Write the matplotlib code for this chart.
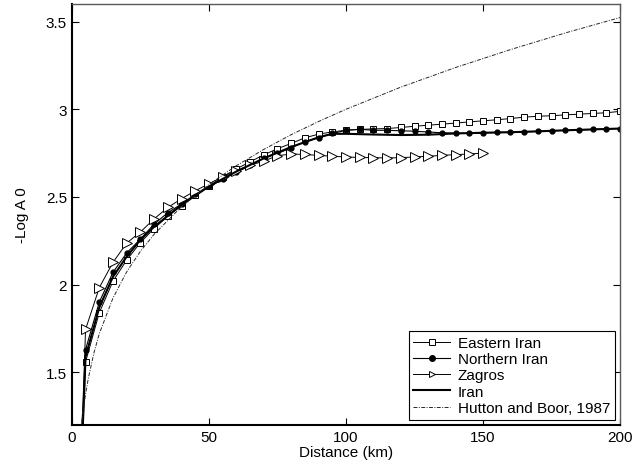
import numpy as np
import matplotlib
matplotlib.use('Agg')
import matplotlib.pyplot as plt

plt.rcParams['font.family'] = ['Liberation Sans', 'DejaVu Sans']

# distancias de los marcadores (cada 5 km)
dist_full = list(range(5, 205, 5))
dist_zag = list(range(5, 155, 5))

# Eastern Iran (cuadrados)
eastern = [1.56, 1.84, 2.02, 2.14, 2.24, 2.32, 2.39, 2.45, 2.51, 2.56,
           2.615, 2.66, 2.70, 2.74, 2.775, 2.805, 2.837, 2.858, 2.871, 2.88,
           2.885, 2.888, 2.89, 2.896, 2.903, 2.909, 2.915, 2.921, 2.928, 2.934,
           2.94, 2.947, 2.955, 2.96, 2.963, 2.968, 2.972, 2.976, 2.98, 2.988]

# Northern Iran (puntos)
northern = [1.63, 1.90, 2.07, 2.18, 2.26, 2.345, 2.41, 2.46, 2.515, 2.56,
            2.60, 2.64, 2.68, 2.72, 2.748, 2.78, 2.815, 2.837, 2.862, 2.88,
            2.886, 2.88, 2.88, 2.877, 2.875, 2.87, 2.866, 2.864, 2.862, 2.865,
            2.868, 2.869, 2.871, 2.874, 2.877, 2.88, 2.882, 2.885, 2.887, 2.89]

# Zagros (triangulos)
zagros = [1.745, 1.983, 2.127, 2.237, 2.30, 2.375, 2.44, 2.49, 2.535, 2.575,
          2.615, 2.65, 2.68, 2.705, 2.735, 2.745, 2.742, 2.737, 2.732, 2.728,
          2.725, 2.724, 2.722, 2.724, 2.728, 2.732, 2.737, 2.741, 2.745, 2.75]

# tramo inicial (por debajo del eje, se recorta)
lead_dist = [3, 4]
eastern_lead = [0.85, 1.15]
northern_lead = [0.95, 1.22]
zagros_lead = [1.05, 1.30]

# Iran (linea continua)
iran_dist = [3, 4, 5, 10, 15, 20, 25, 30, 40, 50, 60, 70, 80, 90, 95, 100,
             110, 120, 130, 140, 150, 160, 170, 180, 190, 200]
iran = [0.9, 1.2, 1.59, 1.87, 2.045, 2.16, 2.255, 2.33, 2.455, 2.56, 2.645,
        2.72, 2.785, 2.84, 2.86, 2.86, 2.856, 2.853, 2.855, 2.862, 2.866,
        2.869, 2.874, 2.88, 2.885, 2.89]

# Hutton and Boor, 1987
hb_dist = [3, 4, 5, 6, 8, 10, 15, 20, 25, 30, 40, 50, 60, 70, 80, 90, 100,
           120, 140, 160, 180, 200]
hb = [1.127, 1.267, 1.376, 1.466, 1.608, 1.72, 1.924, 2.073, 2.19, 2.287,
      2.445, 2.571, 2.678, 2.771, 2.855, 2.93, 3.0, 3.126, 3.238, 3.34,
      3.435, 3.523]

fig = plt.figure(figsize=(6.36, 4.77), dpi=100)
ax = fig.add_axes([0.113, 0.107, 0.862, 0.8825])

ax.plot(lead_dist + dist_full, eastern_lead + eastern, color='k', lw=0.7,
        marker='s', ms=5, mfc='white', mec='k', mew=0.7,
        markevery=slice(2, None), label='Eastern Iran')
ax.plot(lead_dist + dist_full, northern_lead + northern, color='k', lw=0.8,
        marker='o', ms=3.5, mfc='k', mec='k',
        markevery=slice(2, None), label='Northern Iran')
ax.plot(lead_dist + dist_zag, zagros_lead + zagros, color='k', lw=0.7,
        marker='>', ms=6.5, mfc='white', mec='k', mew=0.7,
        markevery=slice(2, None), label='Zagros')
ax.plot(iran_dist, iran, color='k', lw=1.5, label='Iran')
ax.plot(hb_dist, hb, color='0.15', lw=0.7, ls=(0, (4, 1.5, 1, 1.5)),
        label='Hutton and Boor, 1987')

ax.set_xlim(0, 200)
ax.set_ylim(1.2, 3.6)
ax.set_xticks([0, 50, 100, 150, 200])
ax.set_yticks([1.5, 2, 2.5, 3, 3.5])
ax.set_yticklabels(['1.5', '2', '2.5', '3', '3.5'])
ax.tick_params(direction='in', top=True, right=True, labelsize=11, length=5)
for s in ['left', 'bottom']:
    ax.spines[s].set_linewidth(1.5)
for s in ['top', 'right']:
    ax.spines[s].set_linewidth(1.0)
    ax.spines[s].set_color('0.35')

ax.set_xlabel('Distance (km)', fontsize=11, labelpad=1)
ax.set_ylabel('-Log A 0', fontsize=11, labelpad=12)

leg = ax.legend(loc='lower right', fontsize=11, handlelength=2.4,
                borderaxespad=0.35, labelspacing=0.15, handletextpad=0.5,
                borderpad=0.3, fancybox=False, framealpha=1, edgecolor='k')
leg.get_frame().set_linewidth(0.8)
for h in leg.legend_handles:
    h.set_markersize(4)

fig.savefig('out.png', dpi=100)
